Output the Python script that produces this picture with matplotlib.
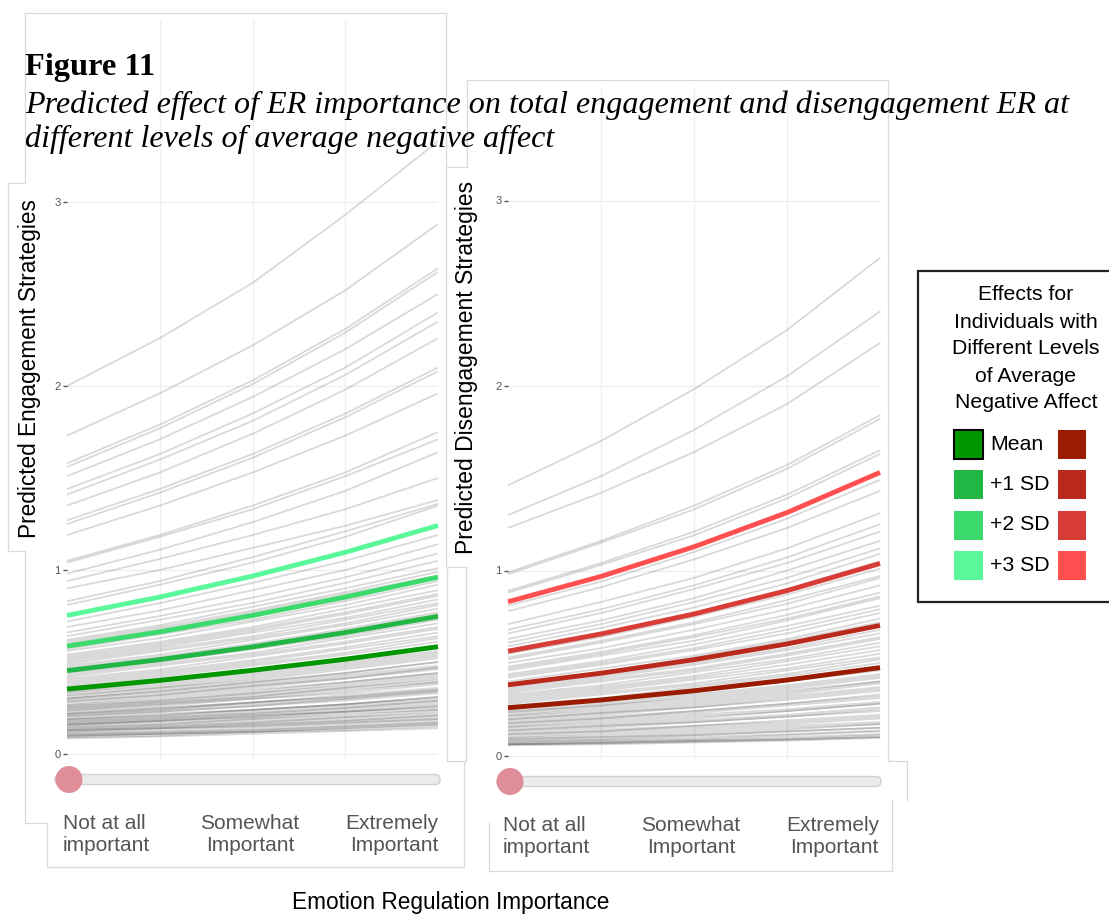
import matplotlib
matplotlib.use("Agg")
import matplotlib.pyplot as plt
from matplotlib.patches import Rectangle, FancyBboxPatch, Circle

W, H = 1109, 914

# ---- data -------------------------------------------------------------
importance_levels = [1, 2, 3, 4, 5]
left_labels = ["Not at all\nimportant", "Somewhat\nImportant", "Extremely\nImportant"]

legend_labels = ["Mean", "+1 SD", "+2 SD", "+3 SD"]
green_shades = ["#009600", "#22b645", "#3cda6c", "#5af89b"]
red_shades = ["#9b1b00", "#b9291c", "#d83c37", "#ff4f4f"]

# predicted engagement at average negative affect: mean, +1, +2, +3 SD
engage_highlight = [
    [0.353, 0.400, 0.455, 0.515, 0.583],
    [0.453, 0.513, 0.582, 0.660, 0.748],
    [0.586, 0.664, 0.753, 0.853, 0.961],
    [0.753, 0.853, 0.967, 1.096, 1.242],
]

# predicted disengagement at average negative affect: mean, +1, +2, +3 SD
disengage_highlight = [
    [0.258, 0.300, 0.350, 0.408, 0.475],
    [0.382, 0.445, 0.518, 0.603, 0.703],
    [0.564, 0.657, 0.765, 0.891, 1.038],
    [0.831, 0.968, 1.128, 1.313, 1.530],
]

# individual participant curves, engagement
engage_people = [
    [2.00, 2.26, 2.56, 2.93, 3.33],
    [1.73, 1.96, 2.22, 2.52, 2.88],
    [1.58, 1.79, 2.03, 2.31, 2.64],
    [1.56, 1.77, 2.01, 2.29, 2.62],
    [1.51, 1.71, 1.94, 2.20, 2.50],
    [1.44, 1.63, 1.85, 2.10, 2.40],
    [1.41, 1.60, 1.81, 2.06, 2.35],
    [1.35, 1.53, 1.74, 1.98, 2.26],
    [1.27, 1.44, 1.63, 1.85, 2.10],
    [1.25, 1.42, 1.61, 1.83, 2.08],
    [1.19, 1.35, 1.53, 1.73, 1.96],
    [1.05, 1.19, 1.35, 1.53, 1.75],
    [1.04, 1.18, 1.33, 1.51, 1.71],
    [0.98, 1.11, 1.26, 1.43, 1.64],
    [0.94, 1.06, 1.19, 1.33, 1.50],
    [0.90, 1.00, 1.12, 1.24, 1.38],
    [0.83, 0.94, 1.07, 1.21, 1.36],
    [0.81, 0.92, 1.04, 1.18, 1.35],
    [0.72, 0.82, 0.93, 1.05, 1.19],
    [0.69, 0.78, 0.89, 1.00, 1.14],
    [0.66, 0.75, 0.85, 0.96, 1.09],
    [0.64, 0.73, 0.82, 0.93, 1.05],
    [0.62, 0.70, 0.80, 0.90, 1.01],
    [0.61, 0.69, 0.78, 0.88, 0.99],
    [0.60, 0.68, 0.77, 0.87, 0.97],
    [0.58, 0.66, 0.75, 0.84, 0.96],
    [0.57, 0.65, 0.73, 0.83, 0.94],
    [0.56, 0.63, 0.72, 0.81, 0.92],
    [0.54, 0.61, 0.69, 0.79, 0.89],
    [0.53, 0.60, 0.68, 0.77, 0.87],
    [0.52, 0.59, 0.67, 0.76, 0.86],
    [0.51, 0.58, 0.66, 0.74, 0.84],
    [0.50, 0.57, 0.64, 0.73, 0.82],
    [0.49, 0.56, 0.63, 0.71, 0.81],
    [0.48, 0.54, 0.62, 0.70, 0.79],
    [0.47, 0.53, 0.60, 0.68, 0.77],
    [0.46, 0.52, 0.59, 0.67, 0.76],
    [0.44, 0.50, 0.57, 0.64, 0.73],
    [0.43, 0.49, 0.55, 0.63, 0.71],
    [0.42, 0.48, 0.54, 0.61, 0.69],
    [0.41, 0.46, 0.53, 0.60, 0.68],
    [0.40, 0.45, 0.51, 0.58, 0.66],
    [0.39, 0.44, 0.50, 0.57, 0.64],
    [0.38, 0.43, 0.49, 0.55, 0.63],
    [0.37, 0.42, 0.48, 0.54, 0.61],
    [0.36, 0.41, 0.46, 0.52, 0.59],
    [0.34, 0.39, 0.44, 0.50, 0.56],
    [0.335, 0.38, 0.43, 0.49, 0.55],
    [0.33, 0.37, 0.42, 0.48, 0.54],
    [0.32, 0.36, 0.41, 0.47, 0.53],
    [0.315, 0.36, 0.40, 0.46, 0.52],
    [0.305, 0.35, 0.39, 0.44, 0.50],
    [0.30, 0.34, 0.39, 0.44, 0.50],
    [0.30, 0.34, 0.38, 0.43, 0.48],
    [0.29, 0.33, 0.37, 0.42, 0.47],
    [0.285, 0.32, 0.37, 0.41, 0.47],
    [0.28, 0.32, 0.36, 0.41, 0.46],
    [0.27, 0.31, 0.35, 0.39, 0.44],
    [0.265, 0.30, 0.34, 0.39, 0.44],
    [0.26, 0.29, 0.33, 0.38, 0.43],
    [0.255, 0.29, 0.33, 0.37, 0.42],
    [0.25, 0.28, 0.32, 0.36, 0.41],
    [0.245, 0.28, 0.31, 0.36, 0.40],
    [0.24, 0.27, 0.31, 0.35, 0.39],
    [0.235, 0.27, 0.30, 0.34, 0.39],
    [0.23, 0.26, 0.30, 0.33, 0.38],
    [0.22, 0.25, 0.28, 0.32, 0.36],
    [0.22, 0.25, 0.28, 0.31, 0.35],
    [0.215, 0.24, 0.28, 0.31, 0.35],
    [0.21, 0.24, 0.27, 0.30, 0.34],
    [0.205, 0.23, 0.26, 0.30, 0.34],
    [0.20, 0.23, 0.26, 0.29, 0.33],
    [0.19, 0.22, 0.24, 0.27, 0.31],
    [0.19, 0.21, 0.24, 0.27, 0.30],
    [0.185, 0.21, 0.24, 0.27, 0.31],
    [0.18, 0.20, 0.23, 0.26, 0.29],
    [0.175, 0.20, 0.22, 0.25, 0.29],
    [0.17, 0.19, 0.22, 0.25, 0.28],
    [0.165, 0.19, 0.21, 0.24, 0.27],
    [0.16, 0.18, 0.21, 0.23, 0.26],
    [0.16, 0.18, 0.20, 0.23, 0.25],
    [0.155, 0.18, 0.20, 0.23, 0.26],
    [0.15, 0.17, 0.19, 0.22, 0.24],
    [0.145, 0.16, 0.19, 0.21, 0.24],
    [0.14, 0.16, 0.18, 0.20, 0.23],
    [0.135, 0.15, 0.17, 0.20, 0.22],
    [0.13, 0.15, 0.17, 0.19, 0.21],
    [0.13, 0.14, 0.16, 0.18, 0.20],
    [0.125, 0.14, 0.16, 0.18, 0.21],
    [0.12, 0.14, 0.15, 0.17, 0.19],
    [0.115, 0.13, 0.15, 0.17, 0.19],
    [0.11, 0.12, 0.14, 0.16, 0.18],
    [0.105, 0.12, 0.13, 0.15, 0.17],
    [0.10, 0.11, 0.13, 0.15, 0.17],
    [0.10, 0.11, 0.12, 0.14, 0.16],
    [0.095, 0.11, 0.12, 0.14, 0.16],
    [0.09, 0.10, 0.12, 0.13, 0.15],
    [0.085, 0.095, 0.11, 0.125, 0.14],
]

# individual participant curves, disengagement
disengage_people = [
    [1.46, 1.70, 1.98, 2.30, 2.69],
    [1.30, 1.51, 1.76, 2.05, 2.40],
    [1.23, 1.42, 1.64, 1.90, 2.23],
    [0.99, 1.16, 1.35, 1.57, 1.84],
    [0.98, 1.15, 1.33, 1.55, 1.82],
    [0.89, 1.04, 1.21, 1.41, 1.65],
    [0.88, 1.03, 1.19, 1.39, 1.63],
    [0.81, 0.94, 1.10, 1.28, 1.49],
    [0.78, 0.91, 1.06, 1.23, 1.43],
    [0.71, 0.83, 0.96, 1.12, 1.31],
    [0.68, 0.79, 0.92, 1.07, 1.25],
    [0.66, 0.77, 0.90, 1.04, 1.21],
    [0.63, 0.73, 0.85, 1.00, 1.16],
    [0.61, 0.71, 0.83, 0.96, 1.12],
    [0.59, 0.69, 0.80, 0.93, 1.09],
    [0.57, 0.66, 0.77, 0.90, 1.05],
    [0.55, 0.64, 0.75, 0.87, 1.01],
    [0.53, 0.62, 0.72, 0.84, 0.97],
    [0.52, 0.61, 0.71, 0.82, 0.96],
    [0.50, 0.58, 0.68, 0.79, 0.92],
    [0.48, 0.56, 0.65, 0.76, 0.88],
    [0.47, 0.55, 0.64, 0.74, 0.86],
    [0.46, 0.54, 0.62, 0.73, 0.85],
    [0.44, 0.51, 0.60, 0.70, 0.81],
    [0.43, 0.50, 0.58, 0.68, 0.79],
    [0.42, 0.49, 0.57, 0.66, 0.77],
    [0.40, 0.47, 0.54, 0.63, 0.74],
    [0.39, 0.45, 0.53, 0.62, 0.72],
    [0.37, 0.43, 0.50, 0.58, 0.68],
    [0.36, 0.42, 0.49, 0.57, 0.66],
    [0.35, 0.41, 0.47, 0.55, 0.64],
    [0.34, 0.40, 0.46, 0.54, 0.63],
    [0.33, 0.38, 0.45, 0.52, 0.61],
    [0.32, 0.37, 0.43, 0.51, 0.59],
    [0.31, 0.36, 0.42, 0.49, 0.57],
    [0.30, 0.35, 0.41, 0.47, 0.55],
    [0.29, 0.34, 0.39, 0.46, 0.53],
    [0.28, 0.33, 0.38, 0.44, 0.52],
    [0.27, 0.31, 0.37, 0.43, 0.50],
    [0.26, 0.30, 0.35, 0.41, 0.48],
    [0.25, 0.29, 0.34, 0.40, 0.46],
    [0.24, 0.28, 0.33, 0.38, 0.44],
    [0.235, 0.27, 0.32, 0.37, 0.43],
    [0.23, 0.27, 0.31, 0.36, 0.42],
    [0.22, 0.26, 0.30, 0.35, 0.40],
    [0.215, 0.25, 0.29, 0.34, 0.40],
    [0.21, 0.24, 0.28, 0.33, 0.39],
    [0.20, 0.23, 0.27, 0.32, 0.37],
    [0.195, 0.23, 0.26, 0.31, 0.36],
    [0.19, 0.22, 0.26, 0.30, 0.35],
    [0.18, 0.21, 0.24, 0.28, 0.33],
    [0.175, 0.20, 0.24, 0.28, 0.32],
    [0.17, 0.20, 0.23, 0.27, 0.31],
    [0.16, 0.19, 0.22, 0.25, 0.29],
    [0.155, 0.18, 0.21, 0.24, 0.28],
    [0.15, 0.17, 0.20, 0.24, 0.28],
    [0.14, 0.16, 0.19, 0.22, 0.26],
    [0.135, 0.16, 0.18, 0.21, 0.25],
    [0.13, 0.15, 0.18, 0.21, 0.24],
    [0.12, 0.14, 0.16, 0.19, 0.22],
    [0.115, 0.13, 0.16, 0.18, 0.21],
    [0.11, 0.13, 0.15, 0.17, 0.20],
    [0.10, 0.12, 0.14, 0.16, 0.18],
    [0.095, 0.11, 0.13, 0.15, 0.17],
    [0.09, 0.10, 0.12, 0.14, 0.17],
    [0.085, 0.10, 0.11, 0.13, 0.15],
    [0.08, 0.09, 0.11, 0.13, 0.15],
    [0.075, 0.085, 0.10, 0.115, 0.135],
    [0.07, 0.08, 0.09, 0.11, 0.13],
    [0.065, 0.075, 0.085, 0.10, 0.115],
    [0.06, 0.07, 0.08, 0.09, 0.11],
    [0.06, 0.068, 0.078, 0.088, 0.10],
    [0.06, 0.065, 0.075, 0.085, 0.10],
    [0.055, 0.06, 0.07, 0.08, 0.095],
]

# ---- figure -----------------------------------------------------------
plt.rcParams["font.family"] = ["Liberation Sans", "DejaVu Sans"]
fig = plt.figure(figsize=(W / 100, H / 100), dpi=100)
fig.patch.set_facecolor("white")


def px_rect(x0, y0, x1, y1):
    return [x0 / W, 1 - y1 / H, (x1 - x0) / W, (y1 - y0) / H]


def draw_panel(rect, ylim, people, highlight, shades):
    ax = fig.add_axes(rect, zorder=1)
    ax.set_facecolor("none")
    for s in ax.spines.values():
        s.set_visible(False)
    ax.set_xlim(importance_levels[0], importance_levels[-1])
    ax.set_ylim(*ylim)
    ax.set_xticks(importance_levels[1:-1])
    ax.set_yticks([0, 1, 2, 3])
    ax.grid(True, color="#efefef", lw=0.9)
    ax.tick_params(axis="x", length=0, labelbottom=False)
    ax.tick_params(axis="y", length=3, width=1, color="#555555",
                   labelsize=8, labelcolor="#555555", pad=1.5)
    for row in people:
        ax.plot(importance_levels, row, color="black", alpha=0.15, lw=1.3,
                solid_capstyle="butt", solid_joinstyle="round", clip_on=False)
    for row, c in zip(highlight, shades):
        ax.plot(importance_levels, row, color=c, lw=3.5,
                solid_capstyle="butt", solid_joinstyle="round", clip_on=False)
    return ax


draw_panel(px_rect(67, 20, 438, 761), ((754 - 761) / 184, (754 - 20) / 184),
           engage_people, engage_highlight, green_shades)
draw_panel(px_rect(508, 87, 880, 761), ((755.5 - 761) / 185, (755.5 - 87) / 185),
           disengage_people, disengage_highlight, red_shades)

# overlay in pixel units for frames, sliders, text and legend
ov = fig.add_axes([0, 0, 1, 1], zorder=10)
ov.set_xlim(0, W)
ov.set_ylim(H, 0)
ov.axis("off")
ov.set_facecolor("none")

frame = "#dadada"
segments = [
    # left panel frame
    [(25, 13), (446, 13)], [(25, 13), (25, 183)], [(446, 13), (446, 566)],
    [(8, 183), (25, 183)], [(8, 183), (8, 551)], [(8, 551), (25, 551)],
    [(25, 551), (25, 823)], [(25, 823), (47, 823)],
    [(47, 823), (47, 867)], [(47, 867), (464, 867)], [(464, 762), (464, 867)],
    # right panel frame
    [(467, 80), (888, 80)], [(467, 80), (467, 167)], [(447, 167), (467, 167)],
    [(888, 80), (888, 761)], [(888, 761), (907, 761)], [(907, 761), (907, 800)],
    [(447, 567), (466, 567)], [(447, 567), (447, 761)], [(466, 567), (466, 761)],
    [(447, 761), (466, 761)],
    [(489, 823), (489, 871)], [(489, 871), (892, 871)], [(892, 800), (892, 871)],
]
for seg in segments:
    (xa, ya), (xb, yb) = seg
    ov.plot([xa, xb], [ya, yb], color=frame, lw=0.9)

# sliders
for (x0, x1, yc, cx) in [(55, 440, 779.5, 69), (497, 881, 781.5, 510)]:
    ov.add_patch(FancyBboxPatch((x0, yc - 5), x1 - x0, 10,
                                boxstyle="round,pad=0,rounding_size=5",
                                fc="#ebebeb", ec="#d2d2d2", lw=1))
    ov.add_patch(Circle((cx, yc), 13.5, fc="#df8e99", ec="none"))

# slider labels
label_font = dict(fontsize=15, color="#555555", va="center", linespacing=1.2)
for x_left, x_mid, x_right, yc in [(63, 250, 438, 834.5), (503, 691, 879, 836.5)]:
    ov.text(x_left, yc, left_labels[0], ha="left", multialignment="left", **label_font)
    ov.text(x_mid, yc, left_labels[1], ha="center", multialignment="center", **label_font)
    ov.text(x_right, yc, left_labels[2], ha="right", multialignment="right", **label_font)

ov.text(451, 902, "Emotion Regulation Importance", fontsize=16.3,
        ha="center", va="center", color="black")

ov.text(30, 369, "Predicted Engagement Strategies", rotation=90, fontsize=16.3,
        ha="center", va="center", color="black")
ov.text(467, 367, "Predicted Disengagement Strategies", rotation=90,
        fontsize=16.5, ha="center", va="center", color="black")

# heading
ov.text(25, 75, "Figure 11", fontsize=23.3, fontweight="bold",
        family="Liberation Serif", ha="left", va="baseline")
ov.text(25, 113, "Predicted effect of ER importance on total engagement and "
        "disengagement ER at", fontsize=23.1, style="italic",
        family="Liberation Serif", ha="left", va="baseline")
ov.text(25, 147, "different levels of average negative affect", fontsize=23.1,
        style="italic", family="Liberation Serif", ha="left", va="baseline")

# legend
ov.add_patch(Rectangle((918, 271), 210, 331, fc="white", ec="#222222", lw=1.6))
title_lines = ["Effects for", "Individuals with", "Different Levels",
               "of Average", "Negative Affect"]
for i, t in enumerate(title_lines):
    ov.text(1026, 295 + 27 * i, t, fontsize=15.3, ha="center", va="center")
for i, (lab, g, r) in enumerate(zip(legend_labels, green_shades, red_shades)):
    yc = 444 + 40.5 * i
    ov.add_patch(Rectangle((954, yc - 14.5), 29, 29, fc=g,
                           ec="black" if i == 0 else "none", lw=1.5))
    ov.add_patch(Rectangle((1058, yc - 14.5), 28, 29, fc=r, ec="none"))
    ov.text(990, yc, lab, fontsize=15.3, ha="left", va="center")

fig.savefig("out.png", dpi=100, facecolor="white")
